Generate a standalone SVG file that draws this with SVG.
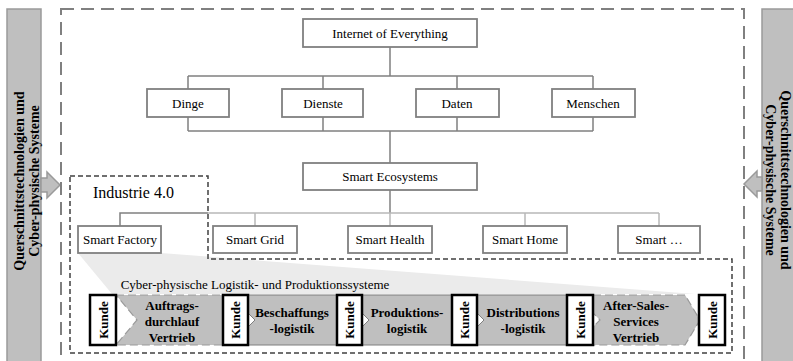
<svg xmlns="http://www.w3.org/2000/svg" width="793" height="361" viewBox="0 0 793 361">
<style>
.box{fill:#fff;stroke:#808080;stroke-width:1.8}
.t{font-family:"Liberation Serif","Times New Roman",serif;font-size:13px;text-anchor:middle;fill:#000}
.b{font-weight:bold}
.side{font-family:"Liberation Serif","Times New Roman",serif;font-size:14px;font-weight:bold;text-anchor:middle;fill:#000}
.conn{stroke:#808080;stroke-width:1.5;fill:none}
.connl{stroke:#b8b8b8;stroke-width:1.5;fill:none}
.kunde{fill:#fff;stroke:#000;stroke-width:2.5}
.seg{fill:#bfbfbf;stroke:#7f7f7f;stroke-width:1}
.segd{fill:#bfbfbf;stroke:#9a9a9a;stroke-width:1.2;stroke-dasharray:8 4}
.bar{fill:#bfbfbf;stroke:#9a9a9a;stroke-width:1.5}
</style>
<rect width="793" height="361" fill="#fff"/>

<!-- side bars -->
<g id="left-bar">
<rect class="bar" x="7" y="9" width="34" height="400"/>
<polygon class="bar" points="41,178 47,178 47,172 60,185 47,198 47,192 41,192"/>
<g transform="translate(24,181) rotate(-90)">
<text class="side" x="0" y="0">Querschnittstechnologien und</text>
<text class="side" x="0" y="15">Cyber-physische Systeme</text>
</g>
</g>
<g id="right-bar">
<rect class="bar" x="762" y="9" width="40" height="400"/>
<polygon class="bar" points="762,177 757,177 757,171 744,184 757,197 757,191 762,191"/>
<g transform="translate(781,180) rotate(90)">
<text class="side" x="0" y="0">Querschnittstechnologien und</text>
<text class="side" x="0" y="15">Cyber-physische Systeme</text>
</g>
</g>

<!-- outer dashed frame -->
<rect x="61" y="9" width="683" height="400" fill="none" stroke="#808080" stroke-width="2" stroke-dasharray="13 7"/>

<!-- funnel wedge -->
<polygon points="78,253 161,253 695,294 112,294" fill="#ebebeb"/>

<!-- Industrie 4.0 region -->
<g id="industrie40">
<polygon points="70,176 208,176 208,259 732,259 732,353 70,353" fill="none" stroke="#404040" stroke-width="1.5" stroke-dasharray="5 3"/>
<text x="93" y="198" font-family="Liberation Serif, Times New Roman, serif" font-size="16" fill="#000">Industrie 4.0</text>
<text class="t" x="255" y="289" text-anchor="middle">Cyber-physische Logistik- und Produktionssysteme</text>
</g>

<!-- connectors -->
<g id="connectors">
<path class="conn" d="M390,47 V76 M188,76 H593 M188,76 V89 M323,76 V89 M457,76 V89 M593,76 V89"/>
<path class="conn" d="M188,117 V131 M323,117 V131 M457,117 V131 M593,117 V131 M188,131 H593 M390,131 V163"/>
<path class="conn" d="M390,190 V213"/>
<path class="connl" d="M208,213 H659 M255,213 V226 M390,213 V226 M525,213 V226 M659,213 V226"/>
<path class="conn" d="M120,226 V213 H208"/>
</g>

<!-- tree nodes -->
<g id="n-ioe"><rect class="box" x="303" y="19" width="174" height="28"/><text class="t" x="390" y="37.5">Internet of Everything</text></g>
<g id="n-dinge"><rect class="box" x="147" y="89" width="82" height="28"/><text class="t" x="188" y="107.5">Dinge</text></g>
<g id="n-dienste"><rect class="box" x="282" y="89" width="81" height="28"/><text class="t" x="323" y="107.5">Dienste</text></g>
<g id="n-daten"><rect class="box" x="416" y="89" width="83" height="28"/><text class="t" x="457" y="107.5">Daten</text></g>
<g id="n-menschen"><rect class="box" x="552" y="89" width="83" height="28"/><text class="t" x="593" y="107.5">Menschen</text></g>
<g id="n-eco"><rect class="box" x="303" y="163" width="174" height="27"/><text class="t" x="390" y="181">Smart Ecosystems</text></g>
<g id="n-factory"><rect class="box" x="78" y="226" width="83" height="27"/><text class="t" x="120" y="244">Smart Factory</text></g>
<g id="n-grid"><rect class="box" x="213" y="226" width="84" height="27"/><text class="t" x="255" y="244">Smart Grid</text></g>
<g id="n-health"><rect class="box" x="348" y="226" width="84" height="27"/><text class="t" x="390" y="244">Smart Health</text></g>
<g id="n-home"><rect class="box" x="483" y="226" width="84" height="27"/><text class="t" x="525" y="244">Smart Home</text></g>
<g id="n-more"><rect class="box" x="618" y="226" width="82" height="27"/><text class="t" x="659" y="244">Smart …</text></g>

<!-- process chain segments -->
<g id="s-auftrag">
<polygon class="segd" points="116,295 226,295 236,320 226,345 116,345 137,320"/>
<text class="t b" x="172" y="310">Auftrags-</text>
<text class="t b" x="172" y="326">durchlauf</text>
<text class="t b" x="172" y="342">Vertrieb</text>
</g>
<g id="s-beschaffung">
<polygon class="seg" points="248,295 340,295 350,320 340,345 248,345 248,327 255,320 248,313"/>
<text class="t b" x="292" y="317">Beschaffungs</text>
<text class="t b" x="292" y="333">-logistik</text>
</g>
<g id="s-produktion">
<polygon class="seg" points="362,295 455,295 465,320 455,345 362,345 362,327 369,320 362,313"/>
<text class="t b" x="407" y="317">Produktions-</text>
<text class="t b" x="407" y="333">logistik</text>
</g>
<g id="s-distribution">
<polygon class="seg" points="477,295 570,295 580,320 570,345 477,345 477,327 484,320 477,313"/>
<text class="t b" x="523" y="317">Distributions</text>
<text class="t b" x="523" y="333">-logistik</text>
</g>
<g id="s-aftersales">
<polygon class="segd" points="593,295 685,295 700,320 685,345 593,345 593,327 600,320 593,313"/>
<text class="t b" x="636" y="310">After-Sales-</text>
<text class="t b" x="636" y="326">Services</text>
<text class="t b" x="636" y="342">Vertrieb</text>
</g>

<!-- Kunde boxes -->
<g id="k1"><rect class="kunde" x="90" y="295" width="26" height="50"/><text class="t b" transform="translate(107.5,320) rotate(-90)">Kunde</text></g>
<g id="k2"><rect class="kunde" x="223" y="295" width="25" height="50"/><text class="t b" transform="translate(240,320) rotate(-90)">Kunde</text></g>
<g id="k3"><rect class="kunde" x="337" y="295" width="25" height="50"/><text class="t b" transform="translate(354,320) rotate(-90)">Kunde</text></g>
<g id="k4"><rect class="kunde" x="452" y="295" width="25" height="50"/><text class="t b" transform="translate(469,320) rotate(-90)">Kunde</text></g>
<g id="k5"><rect class="kunde" x="567" y="295" width="26" height="50"/><text class="t b" transform="translate(584.5,320) rotate(-90)">Kunde</text></g>
<g id="k6"><rect class="kunde" x="699" y="295" width="26" height="50"/><text class="t b" transform="translate(716.5,320) rotate(-90)">Kunde</text></g>
</svg>
